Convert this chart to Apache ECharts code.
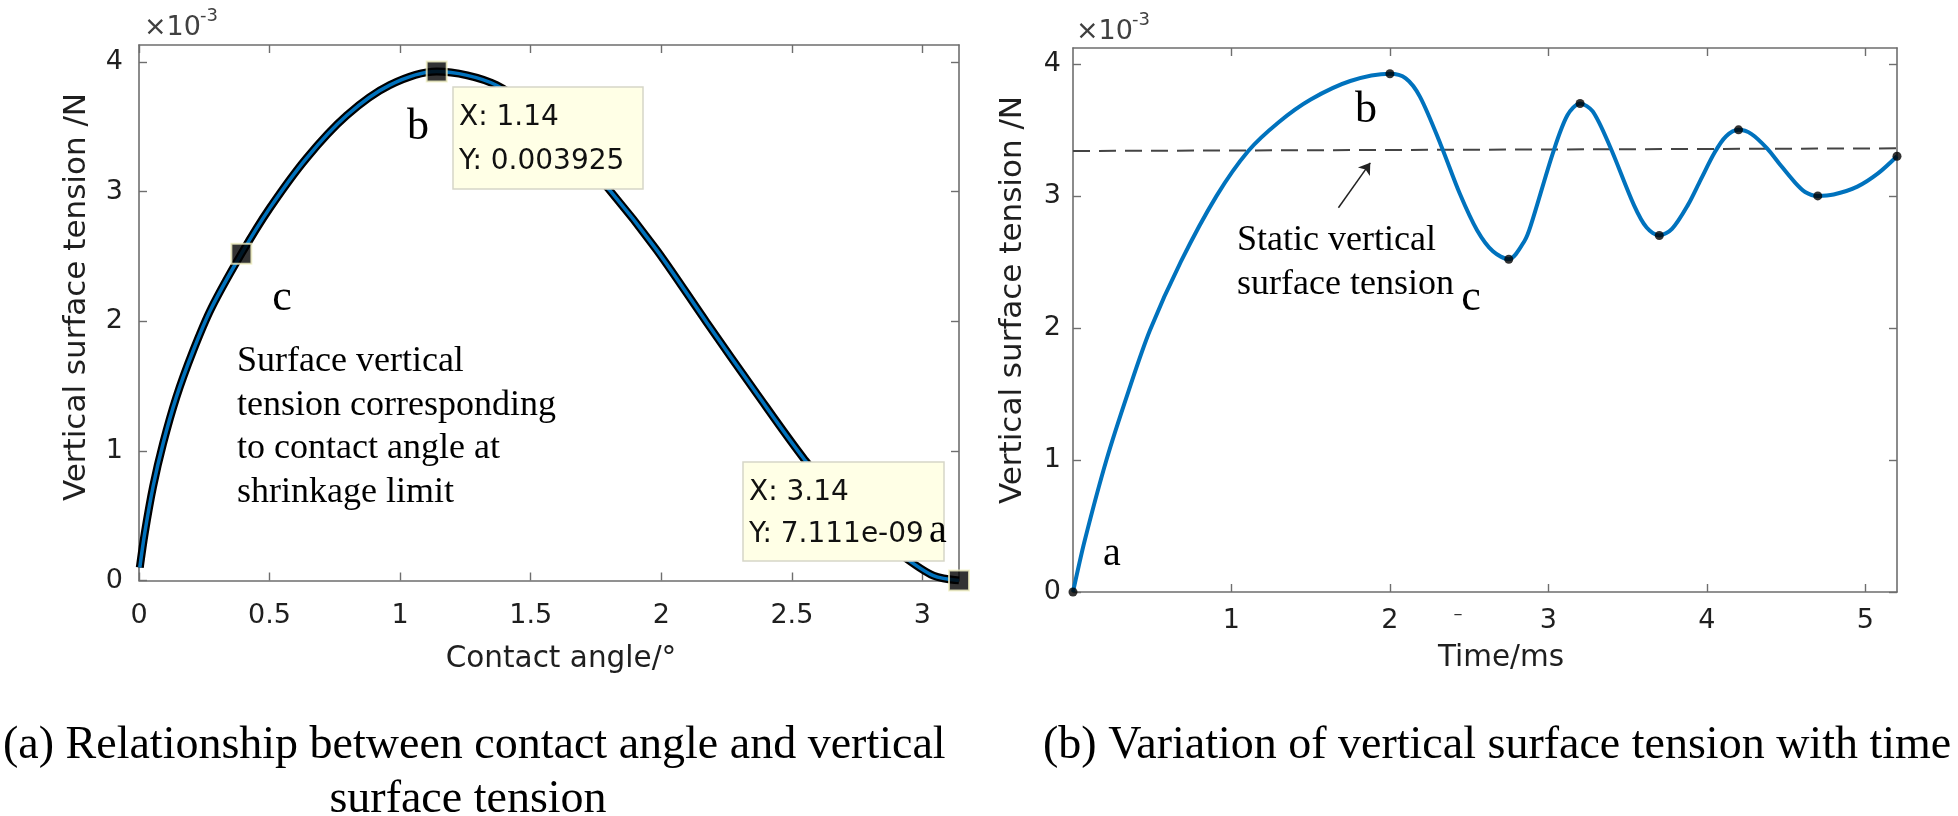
<!DOCTYPE html>
<html><head><meta charset="utf-8">
<script src="https://cdn.jsdelivr.net/npm/echarts@6/dist/echarts.min.js"></script>
<style>html,body{margin:0;padding:0;background:#fff}#c{width:1958px;height:816px}</style>
</head><body><div id="c"></div>
<script>
// ---- Panel (a): contact angle vs vertical surface tension (×10^-3 N)
const angleX   = [0.003, 0.022, 0.054, 0.092, 0.143, 0.207, 0.277, 0.392, 0.50, 0.641, 0.795, 0.96, 1.14, 1.369, 1.60, 1.803, 1.982, 2.174, 2.366, 2.544, 2.72, 2.915, 3.042, 3.14];
const tensionA = [0.10, 0.366, 0.725, 1.055, 1.414, 1.77, 2.10, 2.52, 2.87, 3.256, 3.586, 3.82, 3.925, 3.82, 3.46, 3.008, 2.55, 1.99, 1.44, 0.945, 0.52, 0.204, 0.037, 0.0];
const tipAngle   = [0.392, 1.14, 3.14];
const tipTension = [2.52, 3.925, 0.0000071];
// ---- Panel (b): time vs vertical surface tension (×10^-3 N)
const timeX    = [0, 0.074, 0.211, 0.35, 0.485, 0.68, 0.906, 1.106, 1.3, 1.5, 1.75, 2.0, 2.1, 2.19, 2.32, 2.44, 2.55, 2.65, 2.75, 2.85, 2.89, 3.03, 3.12, 3.2, 3.28, 3.39, 3.54, 3.62, 3.70, 3.78, 3.88, 3.96, 4.05, 4.12, 4.2, 4.28, 4.38, 4.46, 4.55, 4.62, 4.70, 4.80, 4.95, 5.08, 5.2];
const tensionB = [0, 0.39, 1.0, 1.52, 1.98, 2.5, 3.0, 3.34, 3.56, 3.73, 3.87, 3.925, 3.89, 3.75, 3.39, 3.02, 2.74, 2.58, 2.52, 2.66, 2.78, 3.33, 3.61, 3.70, 3.64, 3.37, 2.93, 2.76, 2.70, 2.75, 2.93, 3.12, 3.33, 3.45, 3.50, 3.47, 3.36, 3.24, 3.11, 3.03, 3.00, 3.01, 3.07, 3.17, 3.30];
const extremaT = [0, 2.0, 2.75, 3.2, 3.7, 4.2, 4.7, 5.2];
const extremaV = [0, 3.925, 2.52, 3.70, 2.70, 3.50, 3.00, 3.30];
const staticT  = [0, 5.2];
const staticV  = [3.34, 3.36];
const arrowT   = [1.675, 1.876];
const arrowV   = [2.91, 3.25];
// ---- tick labels
const xTicksA = [0, 0.5, 1, 1.5, 2, 2.5, 3];
const yTicks  = [0, 1, 2, 3, 4];
const xTicksB = [1, 2, 3, 4, 5];

const zip = (a, b) => a.map((v, i) => [v, b[i]]);
const AX = '#6e6e6e', TXT = '#1f1f1f';
const SANS = 'DejaVu Sans', SERIF = 'Liberation Serif';
const Y_TITLE = 'Vertical surface tension /N';

function axis(grid, pos, min, max, ticks, labels, margin, extra) {
  return Object.assign({
    type: 'value', gridIndex: grid, position: pos, min: min, max: max,
    splitLine: { show: false },
    axisLine: { show: true, onZero: false, lineStyle: { color: AX, width: 1.6 } },
    axisTick: { show: true, inside: true, length: 8, customValues: ticks, lineStyle: { color: AX, width: 1.4 } },
    axisLabel: { show: labels, customValues: ticks, margin: margin, color: TXT, fontFamily: SANS, fontSize: 27 }
  }, extra || {});
}

const chart = echarts.init(document.getElementById('c'), null, { renderer: 'canvas' });
const option = {
  animation: false,
  backgroundColor: '#fff',
  grid: [
    { left: 139, top: 45, width: 820, height: 535.5 },
    { left: 1073, top: 48, width: 824, height: 544 }
  ],
  xAxis: [
    axis(0, 'bottom', 0, 3.14, xTicksA, true, 22, {
      name: 'Contact angle/°', nameLocation: 'middle', nameGap: 64,
      nameTextStyle: { fontFamily: SANS, fontSize: 29.5, color: TXT, padding: [0, 0, 0, 24] } }),
    axis(0, 'top', 0, 3.14, xTicksA, false, 8),
    axis(1, 'bottom', 0, 5.2, xTicksB, true, 15, {
      name: 'Time/ms', nameLocation: 'middle', nameGap: 51,
      nameTextStyle: { fontFamily: SANS, fontSize: 29.5, color: TXT, padding: [0, 0, 0, 32] } }),
    axis(1, 'top', 0, 5.2, xTicksB, false, 8)
  ],
  yAxis: [
    axis(0, 'left', 0, 4.13, yTicks, true, 16),
    axis(0, 'right', 0, 4.13, yTicks, false, 8),
    axis(1, 'left', 0, 4.12, yTicks, true, 12),
    axis(1, 'right', 0, 4.12, yTicks, false, 8)
  ],
  series: [
    { type: 'line', xAxisIndex: 0, yAxisIndex: 0, data: zip(angleX, tensionA), smooth: 0.3,
      showSymbol: false, lineStyle: { color: '#000', width: 8 }, z: 2 },
    { type: 'line', xAxisIndex: 0, yAxisIndex: 0, data: zip(angleX, tensionA), smooth: 0.3,
      showSymbol: false, lineStyle: { color: '#0072BD', width: 3.5 }, z: 3 },
    { type: 'scatter', xAxisIndex: 0, yAxisIndex: 0, data: zip(tipAngle, tipTension), clip: false,
      symbol: 'rect', symbolSize: 20, itemStyle: { color: '#000', borderColor: '#f3f1c4', borderWidth: 2 }, z: 5 },

    { type: 'line', xAxisIndex: 2, yAxisIndex: 2, data: zip(staticT, staticV),
      showSymbol: false, lineStyle: { color: '#444', width: 2, type: [17, 9] }, z: 2 },
    { type: 'line', xAxisIndex: 2, yAxisIndex: 2, data: zip(timeX, tensionB), smooth: 0.3,
      showSymbol: false, lineStyle: { color: '#0072BD', width: 4 }, z: 3 },
    { type: 'scatter', xAxisIndex: 2, yAxisIndex: 2, data: zip(extremaT, extremaV), clip: false,
      symbolSize: 9, itemStyle: { color: '#000' }, z: 5 },
    { type: 'lines', coordinateSystem: 'cartesian2d', xAxisIndex: 2, yAxisIndex: 2,
      data: [{ coords: zip(arrowT, arrowV) }], symbol: ['none', 'arrow'], symbolSize: [0, 11],
      lineStyle: { color: '#222', width: 1.5, opacity: 1 }, z: 4 }
  ],
  graphic: [
    // y-axis titles
    { type: 'text', x: 77, y: 297, rotation: Math.PI / 2, style: { text: Y_TITLE, font: '31px ' + SANS, fill: TXT, textAlign: 'center', textVerticalAlign: 'middle' } },
    { type: 'text', x: 1013, y: 300, rotation: Math.PI / 2, style: { text: Y_TITLE, font: '31px ' + SANS, fill: TXT, textAlign: 'center', textVerticalAlign: 'middle' } },

    // ×10^-3 multipliers
    { type: 'text', x: 144, y: 28, style: { text: '×10', font: '27px ' + SANS, fill: '#404040', textVerticalAlign: 'middle' } },
    { type: 'text', x: 200, y: 16, style: { text: '-3', font: '18px ' + SANS, fill: '#404040', textVerticalAlign: 'middle' } },
    { type: 'text', x: 1076, y: 32, style: { text: '×10', font: '27px ' + SANS, fill: '#404040', textVerticalAlign: 'middle' } },
    { type: 'text', x: 1132, y: 20, style: { text: '-3', font: '18px ' + SANS, fill: '#404040', textVerticalAlign: 'middle' } },

    // panel (a) datatips
    { type: 'rect', z: 20, shape: { x: 453, y: 87, width: 190, height: 102 }, style: { fill: '#FFFFE6', stroke: '#d6d6c8', lineWidth: 1.5 } },
    { type: 'text', z: 21, x: 459, y: 118, style: { text: 'X: 1.14', font: '28px ' + SANS, fill: '#111', textVerticalAlign: 'middle' } },
    { type: 'text', z: 21, x: 459, y: 162, style: { text: 'Y: 0.003925', font: '28px ' + SANS, fill: '#111', textVerticalAlign: 'middle' } },
    { type: 'rect', z: 20, shape: { x: 743, y: 462, width: 201, height: 99 }, style: { fill: '#FFFFE6', stroke: '#d6d6c8', lineWidth: 1.5 } },
    { type: 'text', z: 21, x: 749, y: 493, style: { text: 'X: 3.14', font: '28px ' + SANS, fill: '#111', textVerticalAlign: 'middle' } },
    { type: 'text', z: 21, x: 749, y: 535, style: { text: 'Y: 7.111e-09', font: '28px ' + SANS, fill: '#111', textVerticalAlign: 'middle' } },

    // panel (a) labels
    { type: 'text', z: 22, x: 418, y: 127, style: { text: 'b', font: '44px ' + SERIF, fill: '#000', textAlign: 'center', textVerticalAlign: 'middle' } },
    { type: 'text', z: 22, x: 282, y: 298, style: { text: 'c', font: '44px ' + SERIF, fill: '#000', textAlign: 'center', textVerticalAlign: 'middle' } },
    { type: 'text', z: 22, x: 938, y: 531, style: { text: 'a', font: '40px ' + SERIF, fill: '#000', textAlign: 'center', textVerticalAlign: 'middle' } },
    { type: 'text', z: 22, x: 237, y: 340, style: { text: 'Surface vertical\ntension corresponding\nto contact angle at\nshrinkage limit',
        font: '36px ' + SERIF, lineHeight: 43.5, fill: '#000', textVerticalAlign: 'top' } },

    // panel (b) labels
    { type: 'text', z: 22, x: 1366, y: 110, style: { text: 'b', font: '44px ' + SERIF, fill: '#000', textAlign: 'center', textVerticalAlign: 'middle' } },
    { type: 'text', z: 22, x: 1471, y: 298, style: { text: 'c', font: '44px ' + SERIF, fill: '#000', textAlign: 'center', textVerticalAlign: 'middle' } },
    { type: 'text', z: 22, x: 1112, y: 554, style: { text: 'a', font: '40px ' + SERIF, fill: '#000', textAlign: 'center', textVerticalAlign: 'middle' } },
    { type: 'text', z: 22, x: 1237, y: 218, style: { text: 'Static vertical\nsurface tension',
        font: '36px ' + SERIF, lineHeight: 44.6, fill: '#000', textVerticalAlign: 'top' } },
    { type: 'text', z: 22, x: 1458, y: 614, style: { text: '–', font: '18px ' + SANS, fill: '#333', textAlign: 'center', textVerticalAlign: 'middle' } },

    // captions
    { type: 'text', x: 3, y: 746, style: { text: '(a) Relationship between contact angle and vertical', font: '46px ' + SERIF, fill: '#000', textVerticalAlign: 'middle' } },
    { type: 'text', x: 468, y: 800, style: { text: 'surface tension', font: '46px ' + SERIF, fill: '#000', textAlign: 'center', textVerticalAlign: 'middle' } },
    { type: 'text', x: 1043, y: 746, style: { text: '(b) Variation of vertical surface tension with time', font: '46px ' + SERIF, fill: '#000', textVerticalAlign: 'middle' } }
  ]
};
chart.setOption(option);
</script></body></html>
